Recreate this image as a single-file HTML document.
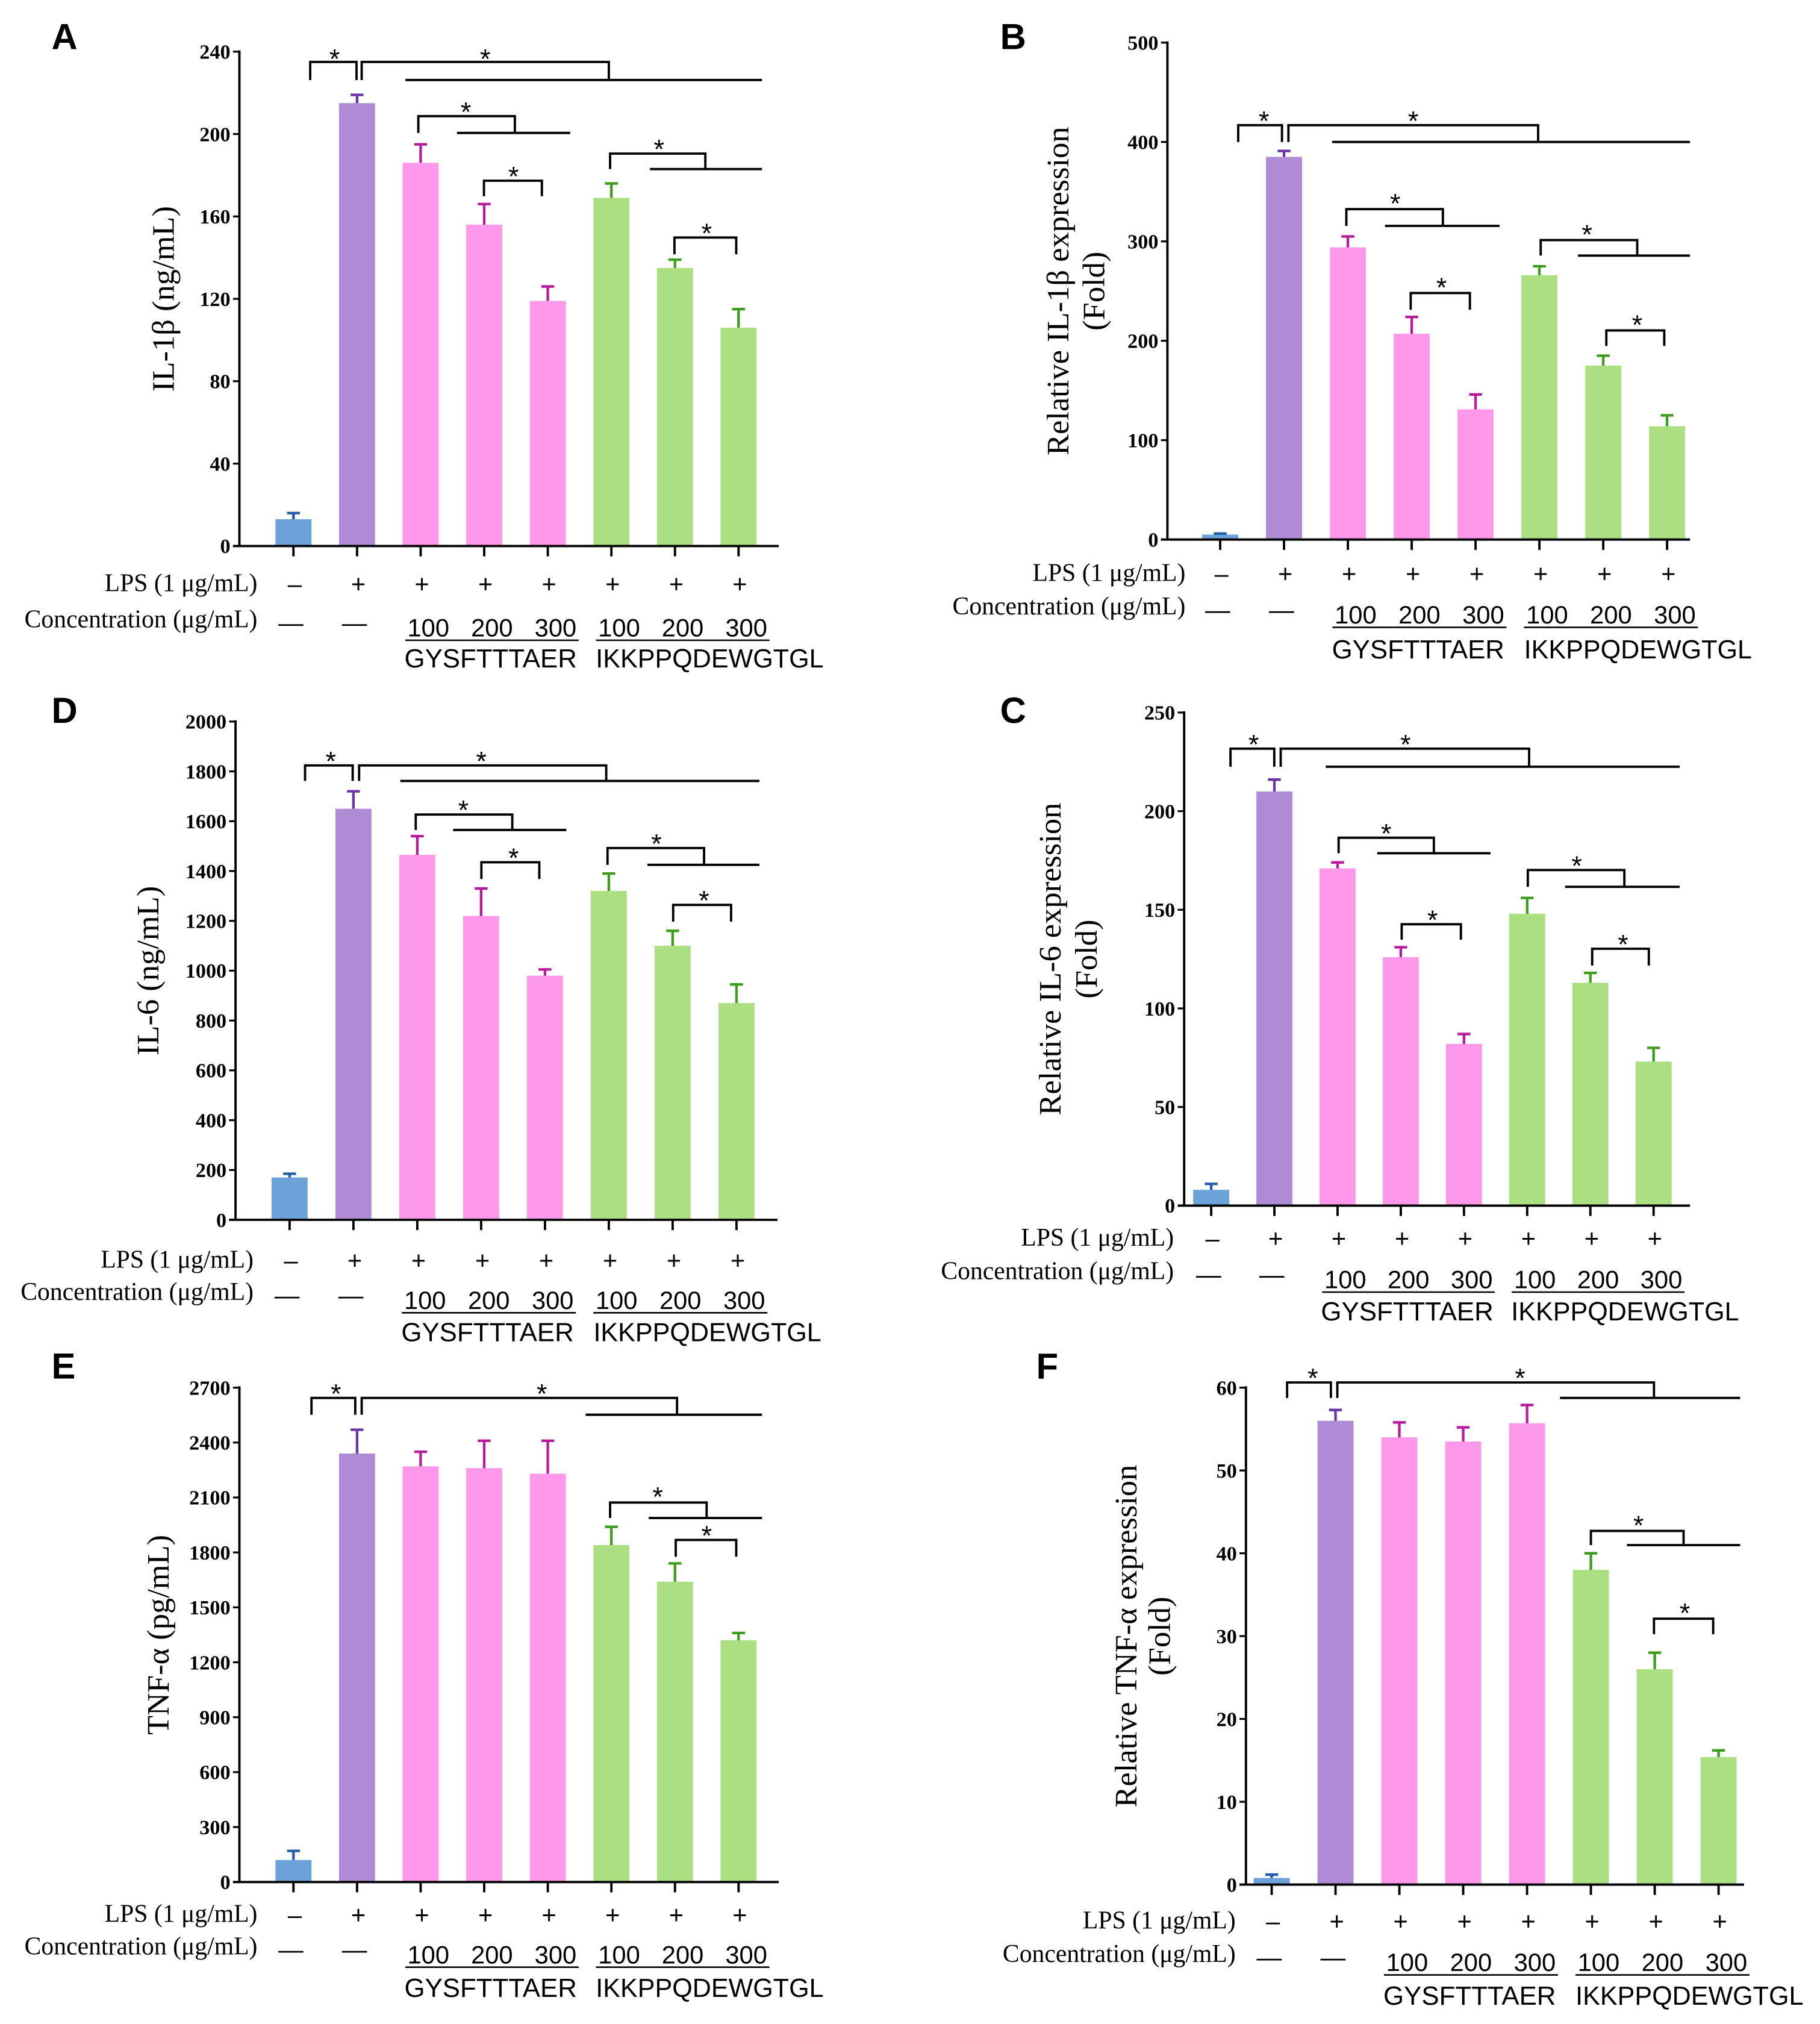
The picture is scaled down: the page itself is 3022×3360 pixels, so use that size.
<!DOCTYPE html>
<html><head><meta charset="utf-8">
<style>
html,body{margin:0;padding:0;background:#fff;}
svg{display:block;}
.tick{font-family:"Liberation Serif",serif;font-weight:bold;font-size:16px;}
.ylab{font-family:"Liberation Serif",serif;font-size:24.5px;}
.rowlab{font-family:"Liberation Serif",serif;font-size:19.5px;}
.sans{font-family:"Liberation Sans",sans-serif;font-size:19.5px;}
.pep{font-family:"Liberation Sans",sans-serif;font-size:20.5px;}
.star{font-family:"Liberation Sans",sans-serif;font-size:21px;}
.letter{font-family:"Liberation Sans",sans-serif;font-weight:bold;font-size:28px;}
</style></head>
<body>
<svg id="fig" width="3022" height="3360" viewBox="0 0 1414 1568" preserveAspectRatio="none" xmlns="http://www.w3.org/2000/svg"></svg>
<script>
// ---- data ----
const groups = ["Control","LPS","GYSFTTTAER 100","GYSFTTTAER 200","GYSFTTTAER 300","IKKPPQDEWGTGL 100","IKKPPQDEWGTGL 200","IKKPPQDEWGTGL 300"];
const valsA = [13,215,186,156,119,169,135,106];
const errA  = [3,4,9,10,7,7,4,9];
const valsB = [5,385,294,207,131,266,175,114];
const errB  = [1,6,11,17,15,9,10,11];
const valsD = [170,1650,1465,1220,980,1320,1100,870];
const errD  = [15,70,75,110,25,70,60,75];
const valsC = [8,210,171,126,82,148,113,73];
const errC  = [3,6,3,5,5,8,5,7];
const valsE = [120,2340,2270,2260,2230,1840,1640,1320];
const errE  = [50,130,80,150,180,100,100,40];
const valsF = [0.8,56,54,53.5,55.7,38,26,15.4];
const errF  = [0.4,1.3,1.8,1.7,2.2,2,2,0.8];
const ticksA = [0,40,80,120,160,200,240];
const ticksB = [0,100,200,300,400,500];
const ticksD = [0,200,400,600,800,1000,1200,1400,1600,1800,2000];
const ticksC = [0,50,100,150,200,250];
const ticksE = [0,300,600,900,1200,1500,1800,2100,2400,2700];
const ticksF = [0,10,20,30,40,50,60];
const lpsRow = ["–","+","+","+","+","+","+","+"];
const concRow = ["—","—","100","200","300","100","200","300"];
const peptides = ["GYSFTTTAER","IKKPPQDEWGTGL"];

const fill = ["#6ba3d8","#af8bd6","#fd98ea","#fd98ea","#fd98ea","#abdf82","#abdf82","#abdf82"];
const ecol = ["#1e5ea8","#6a34a8","#b8199a","#b8199a","#b8199a","#3c9c1c","#3c9c1c","#3c9c1c"];
const pepOff = [5,27];
const pepLen = [134,177];

const panels = [
 {id:"A",vals:valsA,err:errA,ticks:ticksA,ax:186,y0:423,yT:40,xEnd:605,c0:228,dx:49.4,lab:["IL-1β (ng/mL)"],labX:[135],
  letter:[40,38],rowsY:[452,480,510],rowR:200,
  br:[["s",241,277,48,62,260,43],["g",281,473,315,592,48,62,377,43],["g",325,400,355,443,90,103,362,84],["s",376,421,140,152,399,134],["g",474,548,505,592,119,131,512,113],["s",524,572,184,197,549,178]]},
 {id:"B",vals:valsB,err:errB,ticks:ticksB,ax:907,y0:418,yT:33,xEnd:1313,c0:948,dx:49.6,lab:["Relative IL-1β expression","(Fold)"],labX:[830,858],
  letter:[777,38],rowsY:[444,470,503],rowR:921,
  br:[["s",962,996,97,110,982,91],["g",1001,1195,1035,1313,97,110,1098,91],["g",1046,1121,1076,1165,162,175,1084,155],["s",1096,1142,227,240,1120,220],["g",1197,1272,1226,1313,186,198,1233,179],["s",1248,1293,256,268,1272,249]]},
 {id:"D",vals:valsD,err:errD,ticks:ticksD,ax:183,y0:945,yT:559,xEnd:604,c0:225,dx:49.6,lab:["IL-6 (ng/mL)"],labX:[123],
  letter:[40,560],rowsY:[976,1001,1032],rowR:197,
  br:[["s",237,274,593,605,257,587],["g",279,471,311,590,593,605,374,587],["g",323,398,352,440,631,643,360,625],["s",374,419,668,681,399,662],["g",472,547,503,590,657,670,510,651],["s",523,568,701,714,547,695]]},
 {id:"C",vals:valsC,err:errC,ticks:ticksC,ax:920,y0:934,yT:552,xEnd:1313,c0:941,dx:49.1,lab:["Relative IL-6 expression","(Fold)"],labX:[824,852],
  letter:[777,560],rowsY:[959,985,1016],rowR:912,
  br:[["s",956,990,580,594,974,574],["g",995,1188,1030,1305,580,594,1092,574],["g",1040,1114,1070,1158,649,661,1077,643],["s",1089,1135,716,728,1113,710],["g",1187,1262,1216,1305,674,687,1225,668],["s",1237,1281,735,748,1261,729]]},
 {id:"E",vals:valsE,err:errE,ticks:ticksE,ax:186,y0:1458,yT:1075,xEnd:605,c0:228,dx:49.4,lab:["TNF-α (pg/mL)"],labX:[131],
  letter:[40,1068],rowsY:[1483,1508,1540],rowR:200,
  br:[["s",242,276,1083,1096,261,1077],["g",281,526,455,592,1083,1096,421,1077],["g",474,549,504,592,1164,1176,511,1157],["s",525,572,1193,1206,549,1187]]},
 {id:"F",vals:valsF,err:errF,ticks:ticksF,ax:968,y0:1460,yT:1075,xEnd:1355,c0:988,dx:49.6,lab:["Relative TNF-α expression","(Fold)"],labX:[883,909],
  letter:[805,1068],rowsY:[1488,1514,1546],rowR:960,
  br:[["s",1000,1034,1071,1083,1020,1065],["g",1039,1285,1212,1352,1071,1083,1181,1065],["g",1236,1308,1264,1352,1186,1197,1273,1179],["s",1285,1331,1254,1266,1309,1247]]}
];

const NS="http://www.w3.org/2000/svg";
const svg=document.getElementById("fig");
function mk(tag,attrs,parent,text){const e=document.createElementNS(NS,tag);for(const k in attrs)e.setAttribute(k,attrs[k]);if(text!==undefined)e.textContent=text;parent.appendChild(e);return e;}

panels.forEach(p=>{
  const g=mk("g",{},svg);
  
  
  const max=p.ticks[p.ticks.length-1];
  const y=v=>p.y0-(v/max)*(p.y0-p.yT);
  const x=i=>p.c0+i*p.dx;
  const L=mk("text",{x:p.letter[0],y:p.letter[1],class:"letter"},g,p.id);
  
  
  p.vals.forEach((v,i)=>{
    const b=mk("rect",{x:x(i)-14,y:y(v),width:28,height:p.y0-y(v),fill:fill[i]},g);
    
    
    const top=y(v+p.err[i]);
    const e=mk("path",{d:`M${x(i)} ${y(v)} V${top} M${x(i)-5} ${top} H${x(i)+5}`,stroke:ecol[i],"stroke-width":2,fill:"none"},g);
    
    
  });
  const ya=mk("path",{d:`M${p.ax} ${p.yT-1} V${p.y0}`,stroke:"#000","stroke-width":1.8,fill:"none"},g);
  
  
  const xa=mk("path",{d:`M${p.ax-5} ${p.y0} H${p.xEnd}`,stroke:"#000","stroke-width":1.8,fill:"none"},g);
  
  
  p.ticks.forEach(t=>{
    mk("path",{d:`M${p.ax-5} ${y(t)} H${p.ax}`,stroke:"#000","stroke-width":1.5},g);
    const tl=mk("text",{x:p.ax-7,y:y(t)+5.5,"text-anchor":"end",class:"tick"},g,t);
    
    
  });
  groups.forEach((n,i)=>mk("path",{d:`M${x(i)} ${p.y0} V${p.y0+8}`,stroke:"#000","stroke-width":1.8},g));
  const cy=(p.y0+p.yT)/2;
  p.lab.forEach((s,k)=>{
    const t=mk("text",{x:p.labX[k],y:cy,transform:`rotate(-90 ${p.labX[k]} ${cy})`,"text-anchor":"middle",class:"ylab"},g,s);
    
    
  });
  const [r1,r2,r3]=p.rowsY;
  const l1=mk("text",{x:p.rowR,y:r1+6,"text-anchor":"end",class:"rowlab"},g,"LPS (1 μg/mL)");
  
  
  const l2=mk("text",{x:p.rowR,y:r2+6,"text-anchor":"end",class:"rowlab"},g,"Concentration (μg/mL)");
  
  
  lpsRow.forEach((s,i)=>{mk("text",{x:x(i)+1,y:r1+7,"text-anchor":"middle",class:"sans"},g,s);});
  concRow.forEach((s,i)=>{
    mk("text",{x:i<2?x(i)-2:x(i)+6,y:r2+(i<2?9:13),"text-anchor":"middle",class:"sans"},g,s);
  });
  [2,5].forEach((st,k)=>{
    mk("path",{d:`M${x(st)-12} ${r2+16} H${x(st+2)+24}`,stroke:"#000","stroke-width":1.2},g);
    const t=mk("text",{x:x(st+1)+pepOff[k],y:r3+7,"text-anchor":"middle",class:"pep",textLength:pepLen[k],lengthAdjust:"spacingAndGlyphs"},g,peptides[k]);
    
    
  });
  p.br.forEach(b=>{
    let d,sx,sy;
    if(b[0]==="s"){const[,x1,x2,yt,yl,s1,s2]=b;d=`M${x1} ${yl} V${yt} H${x2} V${yl}`;sx=s1;sy=s2;}
    else{const[,x1,xm,xa2,xb,yt,yl,s1,s2]=b;d=`M${x1} ${yl} V${yt} H${xm} V${yl} M${xa2} ${yl} H${xb}`;sx=s1;sy=s2;}
    const pth=mk("path",{d:d,stroke:"#000","stroke-width":1.8,fill:"none"},g);
    
    
    mk("text",{x:sx,y:sy+10,"text-anchor":"middle",class:"star"},g,"*");
  });
});
</script>
</body></html>
